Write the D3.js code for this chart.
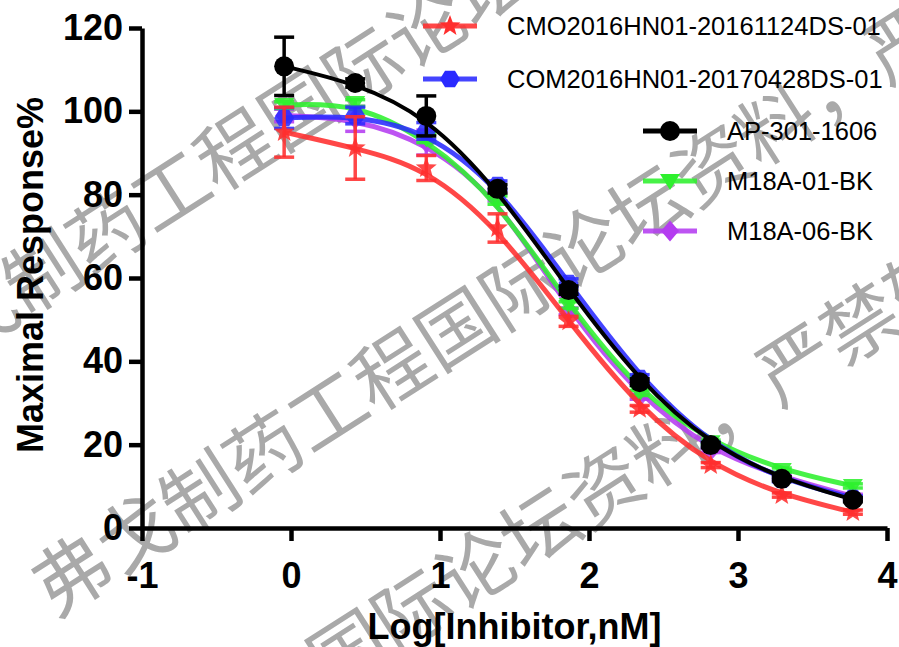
<!DOCTYPE html>
<html>
<head>
<meta charset="utf-8">
<script src="https://cdn.jsdelivr.net/npm/d3@7"></script>
<style>
  body { margin: 0; background: #fff; }
  svg { display: block; }
</style>
</head>
<body>
<svg id="chart"></svg>
<script>
let width = 899;
let height = 647;

// log[inhibitor, nM] for the 3-fold dilution series
const logDose = [-0.046, 0.431, 0.908, 1.386, 1.863, 2.34, 2.817, 3.294, 3.771];

const cmoMean = [95.0, 91.2, 86.4, 72.0, 49.6, 28.6, 15.1, 7.9, 3.8];
const cmoSd = [6.0, 7.5, 3.0, 3.4, 1.2, 0.8, 0.6, 0.5, 0.5];

const comMean = [98.4, 99.0, 95.3, 82.3, 58.8, 36.0, 20.0, 11.6, 7.2];
const comSd = [2.5, 2.0, 2.0, 1.0, 1.0, 0.8, 0.6, 0.5, 0.5];

const apMean = [110.8, 106.8, 98.9, 81.4, 57.1, 35.0, 19.9, 11.8, 6.8];
const apSd = [7.0, 1.0, 4.8, 1.0, 1.0, 0.8, 0.6, 0.5, 0.5];

const m01Mean = [101.5, 102.0, 93.5, 78.7, 53.5, 32.4, 20.6, 13.9, 10.1];
const m01Sd = [0.8, 0.8, 1.0, 1.0, 0.8, 0.6, 0.5, 0.5, 0.5];

const m06Mean = [99.0, 98.2, 92.5, 79.5, 52.0, 31.5, 18.6, 12.2, 7.6];
const m06Sd = [1.5, 3.0, 3.0, 1.0, 0.8, 0.6, 0.5, 0.5, 0.5];

const seriesNames = [
  "CMO2016HN01-20161124DS-01",
  "COM2016HN01-20170428DS-01",
  "AP-301-1606",
  "M18A-01-BK",
  "M18A-06-BK",
];

const xTicks = [-1, 0, 1, 2, 3, 4];
const yTicks = [0, 20, 40, 60, 80, 100, 120];

const xTitle = "Log[Inhibitor,nM]";
const yTitle = "Maximal Response%";
const watermarkText = "弗戈制药工程国际论坛资料，严禁转载";

let series = [
  { name: seriesNames[0], mean: cmoMean, sd: cmoSd, color: "#ff2e2e", shape: "star", width: 5 },
  { name: seriesNames[1], mean: comMean, sd: comSd, color: "#2a2aff", shape: "hexagon", width: 5 },
  { name: seriesNames[2], mean: apMean, sd: apSd, color: "#000000", shape: "circle", width: 4 },
  { name: seriesNames[3], mean: m01Mean, sd: m01Sd, color: "#2ef02e", shape: "triangle", width: 5 },
  { name: seriesNames[4], mean: m06Mean, sd: m06Sd, color: "#b43cf0", shape: "diamond", width: 5 },
];

// draw order: later ones on top
const drawOrder = [4, 3, 1, 0, 2];

const fontFamily = "'Liberation Sans', Arial, Helvetica, sans-serif";

let svg = d3
  .select("svg#chart")
  .attr("width", width)
  .attr("height", height)
  .style("background", "#fff");

let xScale = d3.scaleLinear().domain([-1, 4]).range([142, 887]);
let yScale = d3.scaleLinear().domain([0, 120]).range([528, 28]);

drawWatermark();
drawAxes();
drawSeries();
drawLegend();

function markerPath(shape) {
  let pts;
  if (shape === "circle") {
    return d3.symbol().type(d3.symbolCircle).size(Math.PI * 10 * 10)();
  }
  if (shape === "hexagon") {
    pts = d3.range(6).map((i) => {
      let a = (i * Math.PI) / 3;
      return [10 * Math.cos(a), 9.5 * Math.sin(a)];
    });
  } else if (shape === "star") {
    pts = d3.range(10).map((i) => {
      let a = -Math.PI / 2 + (i * Math.PI) / 5;
      let r = i % 2 === 0 ? 11 : 4.6;
      return [r * Math.cos(a), r * Math.sin(a)];
    });
  } else if (shape === "triangle") {
    pts = [[-10, -7], [10, -7], [0, 9]];
  } else {
    pts = [[0, -10.5], [9, 0], [0, 10.5], [-9, 0]];
  }
  return "M" + pts.map((p) => p.join(",")).join("L") + "Z";
}

function drawWatermark() {
  let g = svg.append("g").attr("class", "watermark");
  // first-glyph centres of the three diagonal lines
  let starts = [
    [-85, 355],
    [72, 575],
    [-36, 897],
  ];
  starts.forEach((s) => {
    g.append("text")
      .attr("transform", `translate(${s[0]}, ${s[1]}) rotate(-32.6)`)
      .attr("x", -38)
      .attr("dy", "0.36em")
      .attr("fill", "#a9a9a9")
      .style("font-family", "'Noto Sans CJK SC', sans-serif")
      .style("font-size", "76px")
      .text(watermarkText);
  });
}

function drawAxes() {
  let xAxis = d3
    .axisBottom(xScale)
    .tickValues(xTicks)
    .tickFormat((d) => String(d))
    .tickSize(13)
    .tickSizeOuter(0)
    .tickPadding(21);

  let yAxis = d3
    .axisLeft(yScale)
    .tickValues(yTicks)
    .tickFormat((d) => String(d))
    .tickSize(13)
    .tickSizeOuter(0)
    .tickPadding(6);

  svg
    .append("g")
    .attr("transform", `translate(0, ${yScale(0)})`)
    .call(xAxis)
    .call((g) => g.selectAll("path, line").attr("stroke", "#000").attr("stroke-width", 4.5))
    .call((g) =>
      g
        .selectAll("text")
        .attr("fill", "#000")
        .style("font-family", fontFamily)
        .style("font-weight", "bold")
        .style("font-size", "36px")
    );

  svg
    .append("g")
    .attr("transform", `translate(${xScale(-1)}, 0)`)
    .call(yAxis)
    .call((g) => g.selectAll("path, line").attr("stroke", "#000").attr("stroke-width", 4.5))
    .call((g) =>
      g
        .selectAll("text")
        .attr("fill", "#000")
        .style("font-family", fontFamily)
        .style("font-weight", "bold")
        .style("font-size", "36px")
    );

  svg
    .append("text")
    .attr("x", (xScale(-1) + xScale(4)) / 2)
    .attr("y", 639)
    .attr("text-anchor", "middle")
    .style("font-family", fontFamily)
    .style("font-weight", "bold")
    .style("font-size", "36px")
    .text(xTitle);

  svg
    .append("text")
    .attr("transform", `translate(43, 275) rotate(-90)`)
    .attr("text-anchor", "middle")
    .style("font-family", fontFamily)
    .style("font-weight", "bold")
    .style("font-size", "36px")
    .text(yTitle);
}

function drawSeries() {
  let line = d3
    .line()
    .x((d) => xScale(d.x))
    .y((d) => yScale(d.y))
    .curve(d3.curveBasis);

  drawOrder.forEach((idx) => {
    let s = series[idx];
    let pts = logDose.map((x, i) => ({ x: x, y: s.mean[i], sd: s.sd[i] }));
    let g = svg.append("g").attr("class", "series");
    let alpha = s.color === "#000000" ? 1 : 0.88;

    g.append("path")
      .datum(pts)
      .attr("d", line)
      .attr("fill", "none")
      .attr("stroke", s.color)
      .attr("stroke-width", s.width)
      .attr("stroke-opacity", alpha);

    let bars = g
      .selectAll("g.err")
      .data(pts)
      .join("g")
      .attr("class", "err")
      .attr("stroke", s.color)
      .attr("stroke-width", 3.5)
      .attr("stroke-opacity", alpha);

    bars
      .append("line")
      .attr("x1", (d) => xScale(d.x))
      .attr("x2", (d) => xScale(d.x))
      .attr("y1", (d) => yScale(d.y - d.sd))
      .attr("y2", (d) => yScale(d.y + d.sd));

    bars
      .append("line")
      .attr("x1", (d) => xScale(d.x) - 10)
      .attr("x2", (d) => xScale(d.x) + 10)
      .attr("y1", (d) => yScale(d.y + d.sd))
      .attr("y2", (d) => yScale(d.y + d.sd));

    bars
      .append("line")
      .attr("x1", (d) => xScale(d.x) - 10)
      .attr("x2", (d) => xScale(d.x) + 10)
      .attr("y1", (d) => yScale(d.y - d.sd))
      .attr("y2", (d) => yScale(d.y - d.sd));

    g.selectAll("path.marker")
      .data(pts)
      .join("path")
      .attr("class", "marker")
      .attr("transform", (d) => `translate(${xScale(d.x)}, ${yScale(d.y)})`)
      .attr("d", markerPath(s.shape))
      .attr("fill", s.color)
      .attr("fill-opacity", alpha);
  });
}

function drawLegend() {
  let rowY = [26, 79, 131, 181, 231];
  let textX = [507, 507, 727, 727, 727];

  let rows = svg
    .append("g")
    .attr("class", "legend")
    .selectAll("g")
    .data(series)
    .join("g")
    .attr("transform", (d, i) => `translate(${textX[i]}, ${rowY[i]})`);

  rows
    .append("line")
    .attr("x1", -84)
    .attr("x2", -30)
    .attr("y1", 0)
    .attr("y2", 0)
    .attr("stroke", (d) => d.color)
    .attr("stroke-width", 5)
    .attr("stroke-opacity", (d) => (d.color === "#000000" ? 1 : 0.88));

  rows
    .append("path")
    .attr("transform", "translate(-57, 0)")
    .attr("d", (d) => markerPath(d.shape))
    .attr("fill", (d) => d.color);

  rows
    .append("text")
    .attr("x", 0)
    .attr("dy", "0.36em")
    .attr("fill", "#000")
    .style("font-family", fontFamily)
    .style("font-size", "25.5px")
    .text((d) => d.name);
}
</script>
</body>
</html>
